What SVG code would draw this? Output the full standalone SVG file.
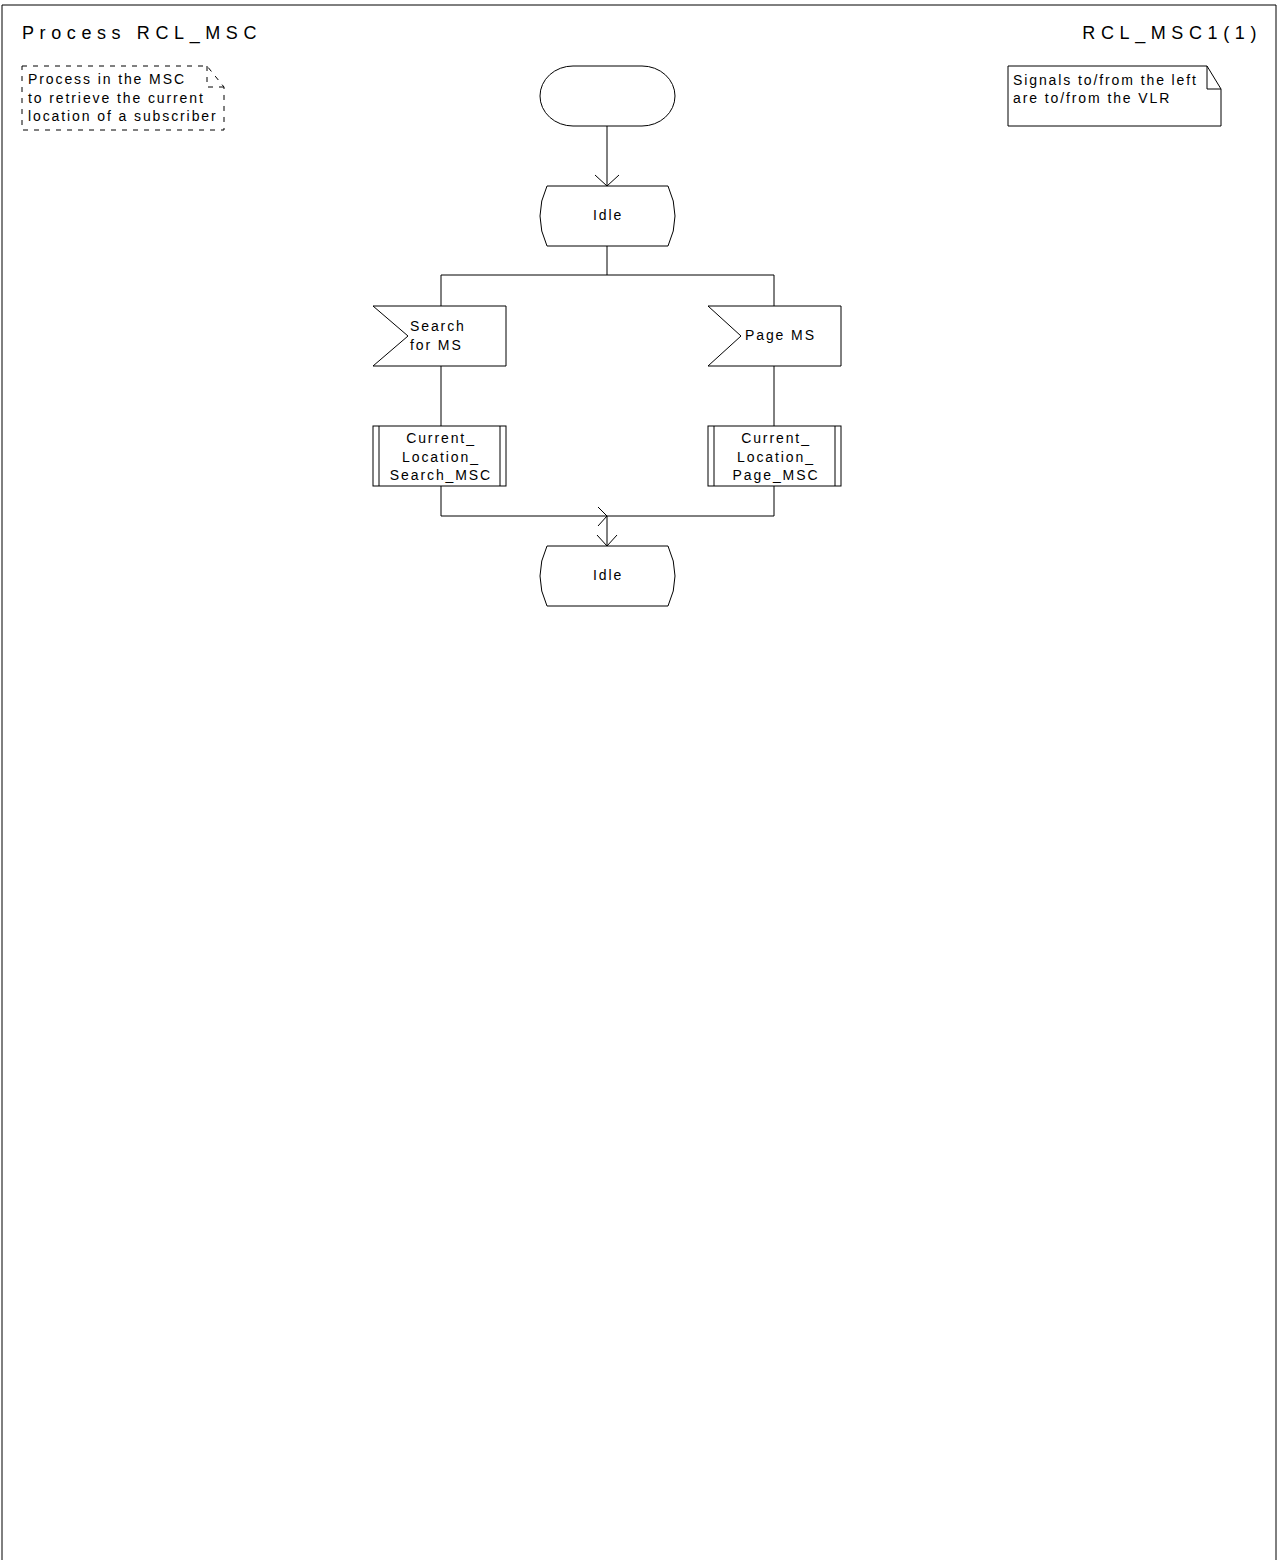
<svg xmlns="http://www.w3.org/2000/svg" width="1278" height="1560" viewBox="0 0 1278 1560">
<style>
.s{fill:none;stroke:#000;stroke-width:1}
.t{font-family:"Liberation Sans",Arial,sans-serif;font-size:14px;fill:#000;letter-spacing:1.9px}
.c{text-anchor:middle}
.h{font-family:"Liberation Sans",Arial,sans-serif;font-size:18px;fill:#000;letter-spacing:5.6px}
</style>
<rect x="0" y="0" width="1278" height="1560" fill="#fff"/>
<path class="s" d="M2,1560 V5 H1276 V1560"/>
<text class="h" x="22" y="39">Process RCL_MSC</text>
<text class="h" x="1262" y="39" text-anchor="end">RCL_MSC1(1)</text>
<g id="comment">
<path class="s" stroke-dasharray="5,6" d="M22,66 H207 L224,87 V130 H22 Z M207,66 V87 H224"/>
<text class="t" x="28" y="84">Process in the MSC</text>
<text class="t" x="28" y="103">to retrieve the current</text>
<text class="t" x="28" y="121">location of a subscriber</text>
</g>
<g id="note">
<path class="s" d="M1008,66 H1207 L1221,89 V126 H1008 Z M1207,66 V89 H1221"/>
<text class="t" x="1013" y="85">Signals to/from the left</text>
<text class="t" x="1013" y="103">are to/from the VLR</text>
</g>
<g id="start">
<path class="s" d="M573,66 H642 A33,30 0 0 1 642,126 H573 A33,30 0 0 1 573,66 Z"/>
</g>
<g id="idle1">
<path class="s" d="M547,186 H668 Q682,216 668,246 H547 Q533,216 547,186 Z"/>
<text class="t c" x="608" y="220">Idle</text>
</g>
<g id="search">
<path class="s" d="M373,306 H506 V366 H373 L408,336 Z"/>
<text class="t" x="410" y="331">Search</text>
<text class="t" x="410" y="350">for MS</text>
</g>
<g id="page">
<path class="s" d="M708,306 H841 V366 H708 L741,336 Z"/>
<text class="t" x="745" y="340">Page MS</text>
</g>
<g id="proc_search">
<rect class="s" x="373" y="426" width="133" height="60"/>
<path class="s" d="M379,426 V486 M500,426 V486"/>
<text class="t c" x="441" y="443">Current_</text>
<text class="t c" x="441" y="462">Location_</text>
<text class="t c" x="441" y="480">Search_MSC</text>
</g>
<g id="proc_page">
<rect class="s" x="708" y="426" width="133" height="60"/>
<path class="s" d="M714,426 V486 M835,426 V486"/>
<text class="t c" x="776" y="443">Current_</text>
<text class="t c" x="776" y="462">Location_</text>
<text class="t c" x="776" y="480">Page_MSC</text>
</g>
<g id="idle2">
<path class="s" d="M547,546 H668 Q682,576 668,606 H547 Q533,576 547,546 Z"/>
<text class="t c" x="608" y="580">Idle</text>
</g>
<g id="connectors">
<path class="s" d="M607,126 V186 M595,175 L607,186 L619,175"/>
<path class="s" d="M607,246 V275 M441,275 H774 M441,275 V306 M774,275 V306"/>
<path class="s" d="M441,366 V426 M774,366 V426"/>
<path class="s" d="M441,486 V516 H774 V486"/>
<path class="s" d="M598,507 L607,516 L598,526"/>
<path class="s" d="M607,516 V546 M597,535 L607,546 L617,535"/>
</g>
</svg>
